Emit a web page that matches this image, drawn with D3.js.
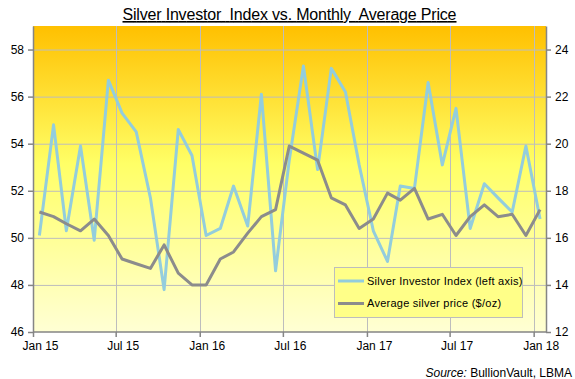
<!DOCTYPE html>
<html>
<head>
<meta charset="utf-8">
<script src="https://cdn.jsdelivr.net/npm/d3@7"></script>
<style>
  body { margin: 0; background: #fff; }
  text { font-family: "Liberation Sans", Arial, sans-serif; }
</style>
</head>
<body>
<div id="chart"></div>
<script>
// monthly data, Jan 2015 - Jan 2018
var months = ["2015-01","2015-02","2015-03","2015-04","2015-05","2015-06","2015-07","2015-08","2015-09","2015-10","2015-11","2015-12",
              "2016-01","2016-02","2016-03","2016-04","2016-05","2016-06","2016-07","2016-08","2016-09","2016-10","2016-11","2016-12",
              "2017-01","2017-02","2017-03","2017-04","2017-05","2017-06","2017-07","2017-08","2017-09","2017-10","2017-11","2017-12",
              "2018-01"];
var investorIndex = [50.1, 54.8, 50.3, 53.9, 49.9, 56.7, 55.3, 54.5, 51.7, 47.8, 54.6, 53.5,
                     50.1, 50.4, 52.2, 50.5, 56.1, 48.6, 53.3, 57.3, 52.9, 57.2, 56.2, 53.1,
                     50.3, 49.0, 52.2, 52.1, 56.6, 53.1, 55.5, 50.4, 52.3, 51.7, 51.1, 53.9,
                     50.8];
var silverPrice = [17.1, 16.9, 16.6, 16.3, 16.8, 16.1, 15.1, 14.9, 14.7, 15.7, 14.5, 14.0,
                   14.0, 15.1, 15.4, 16.2, 16.9, 17.2, 19.9, 19.6, 19.3, 17.7, 17.4, 16.4,
                   16.8, 17.9, 17.6, 18.1, 16.8, 17.0, 16.1, 16.9, 17.4, 16.9, 17.0, 16.1,
                   17.2];
var xTickLabels = ["Jan 15","Jul 15","Jan 16","Jul 16","Jan 17","Jul 17","Jan 18"];
var leftTicks = [46, 48, 50, 52, 54, 56, 58];
var rightTicks = [12, 14, 16, 18, 20, 22, 24];
var seriesNames = ["Silver Investor Index (left axis)", "Average silver price ($/oz)"];

var W = 575, H = 379;
var margin = {top: 26, right: 29, bottom: 47, left: 33},
    width = W - margin.left - margin.right,
    height = H - margin.top - margin.bottom;

var parseMonth = d3.timeParse('%Y-%m');
// points sit mid-month on the date axis
var dates = months.map(function(m) { return d3.timeDay.offset(parseMonth(m), 14); });

var svg = d3.select('#chart').
    append('svg').
    attr('width', W).
    attr('height', H);

var defs = svg.append('defs');
var grad = defs.append('linearGradient').
    attr('id', 'bg').
    attr('x1', 0).attr('y1', 0).attr('x2', 0).attr('y2', 1);
grad.append('stop').attr('offset', '0%').attr('stop-color', '#FFC000');
grad.append('stop').attr('offset', '45%').attr('stop-color', '#FFFF66');
grad.append('stop').attr('offset', '100%').attr('stop-color', '#FFFFD4');

var g = svg.append('g').
    attr('transform', 'translate(' + margin.left + ',' + margin.top + ')');

var x = d3.scaleTime().
    domain([new Date(2015, 0, 1), new Date(2018, 0, 28)]).
    range([0, width]);
var yL = d3.scaleLinear().domain([46, 59]).range([height, 0]);
var yR = d3.scaleLinear().domain([12, 25]).range([height, 0]);

var xTicks = d3.timeMonth.every(6).range(new Date(2015, 0, 1), new Date(2018, 0, 2));

// background
g.append('rect').
    attr('width', width).
    attr('height', height).
    attr('fill', 'url(#bg)');

// gridlines
g.append('g').
    selectAll('line').
    data(leftTicks.slice(1)).
    enter().
    append('line').
    attr('x1', 0).attr('x2', width).
    attr('y1', function(d) { return yL(d) + 0.5; }).
    attr('y2', function(d) { return yL(d) + 0.5; }).
    attr('stroke', '#BDBDBD').
    attr('stroke-width', 1);
g.append('g').
    selectAll('line').
    data(xTicks.slice(1)).
    enter().
    append('line').
    attr('x1', function(d) { return Math.round(x(d)) + 0.5; }).
    attr('x2', function(d) { return Math.round(x(d)) + 0.5; }).
    attr('y1', 0).attr('y2', height).
    attr('stroke', '#BDBDBD').
    attr('stroke-width', 1);

// axes
var axisColor = '#858585';
var xAxis = g.append('g').
    attr('transform', 'translate(0,' + height + ')').
    call(d3.axisBottom(x).tickValues(xTicks).tickSize(5).tickFormat(function(d, i) { return xTickLabels[i]; }));
xAxis.selectAll('text').
    attr('dx', 7).
    attr('dy', 10);

var leftAxis = g.append('g').
    call(d3.axisLeft(yL).tickValues(leftTicks).tickSize(5).tickPadding(4).tickSizeOuter(0));
var rightAxis = g.append('g').
    attr('transform', 'translate(' + width + ',0)').
    call(d3.axisRight(yR).tickValues(rightTicks).tickSize(5).tickPadding(4).tickSizeOuter(0));

[xAxis, leftAxis, rightAxis].forEach(function(a) {
    a.select('.domain').attr('stroke', axisColor).attr('stroke-width', 1.5);
    a.selectAll('.tick line').attr('stroke', axisColor).attr('stroke-width', 1.5);
    a.selectAll('text').
        style('font-family', '"Liberation Sans", Arial, sans-serif').
        style('font-size', '12px').
        attr('fill', '#000');
});
xAxis.select('.domain').attr('d', 'M0,0H' + width);

// series lines
var blueLine = d3.line().
    x(function(d, i) { return x(dates[i]); }).
    y(function(d) { return yL(d); });
var grayLine = d3.line().
    x(function(d, i) { return x(dates[i]); }).
    y(function(d) { return yR(d); });

g.append('path').
    datum(investorIndex).
    attr('d', blueLine).
    attr('fill', 'none').
    attr('stroke', '#93CDDD').
    attr('stroke-width', 3).
    attr('stroke-linejoin', 'round');
g.append('path').
    datum(silverPrice).
    attr('d', grayLine).
    attr('fill', 'none').
    attr('stroke', '#8C8C8C').
    attr('stroke-width', 3).
    attr('stroke-linejoin', 'round');

// legend
var legend = svg.append('g').attr('transform', 'translate(334,267)');
legend.append('rect').
    attr('x', 0.5).attr('y', 0.5).
    attr('width', 188).attr('height', 50).
    attr('fill', '#FFFF88').
    attr('stroke', '#BDBDBD');
var items = legend.selectAll('.item').
    data(seriesNames).
    enter().
    append('g').
    attr('transform', function(d, i) { return 'translate(0,' + (14 + i * 22.5) + ')'; });
items.append('line').
    attr('x1', 4).attr('x2', 30).
    attr('stroke', function(d, i) { return i === 0 ? '#93CDDD' : '#8C8C8C'; }).
    attr('stroke-width', 3);
items.append('text').
    attr('x', 33).
    attr('dy', '0.35em').
    style('font-size', '11px').
    style('letter-spacing', '0.25px').
    text(function(d) { return d; });

// title
svg.append('text').
    attr('x', 289.5).
    attr('y', 20).
    attr('text-anchor', 'middle').
    style('font-size', '16px').
    style('text-decoration', 'underline').
    style('white-space', 'pre').
    attr('textLength', 334).
    text('Silver Investor  Index vs. Monthly  Average Price');

// source
var src = svg.append('text').
    attr('x', 572).
    attr('y', 377).
    attr('text-anchor', 'end').
    style('font-size', '12px');
src.append('tspan').style('font-style', 'italic').text('Source:');
src.append('tspan').text(' BullionVault, LBMA');
</script>
</body>
</html>
